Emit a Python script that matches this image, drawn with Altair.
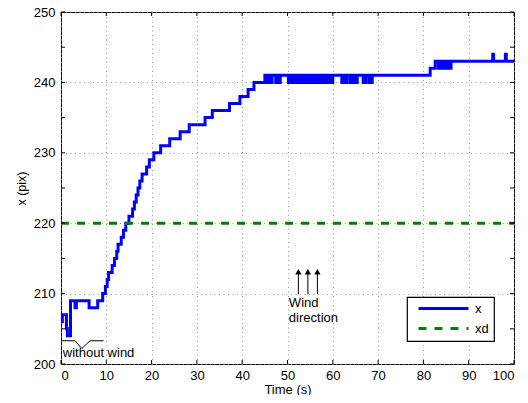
import altair as alt
import pandas as pd

# ---- data ----
t_x = [0.0, 0.3, 1.2, 1.4, 2.1, 3.1, 3.4, 6.2, 8.1, 9.2, 9.8, 10.2, 10.5, 11.3, 11.8,
       12.3, 12.6, 13.3, 13.8, 14.3, 15.0, 15.8, 16.2, 16.6, 17.0, 17.4, 17.9, 18.9,
       19.5, 20.5, 22.0, 24.0, 26.3, 28.3, 31.8, 33.4, 37.2, 39.5, 41.3, 42.6,
       45.0, 45.2, 45.4, 45.6, 45.8, 46.0, 46.2, 46.4, 46.6,
       47.4, 47.6, 48.2, 48.4,
       50.2, 50.4, 50.6, 50.8, 51.0, 51.2, 51.5, 51.7, 51.9, 52.1, 52.3, 52.5,
       52.8, 53.0, 53.2, 53.4, 53.7, 53.9, 54.1, 54.3, 54.6, 54.8, 55.0, 55.2,
       55.6, 55.8, 56.1, 56.4,
       56.8, 57.0, 57.3, 57.5, 57.8, 58.0, 58.2, 58.4,
       58.7, 58.9, 59.2, 59.4, 59.7, 60.0,
       62.0, 62.2, 62.5, 62.7, 62.9, 63.1,
       63.8, 64.0, 64.3, 64.5, 64.8, 65.0, 65.2, 65.4,
       66.7, 66.9, 67.2, 67.4,
       68.1, 68.3, 68.5, 68.7,
       81.5, 82.6, 83.3, 83.6, 84.0, 84.4, 84.8, 85.3, 85.6, 86.1,
       95.3, 95.5, 98.1, 98.3, 100.0]
v_x = [206, 207, 205, 204, 209, 208, 209, 208, 209, 210, 211, 212, 213, 214, 215,
       216, 217, 218, 219, 220, 221, 222, 223, 224, 225, 226, 227, 228,
       229, 230, 231, 232, 233, 234, 235, 236, 237, 238, 239, 240,
       241, 240, 241, 240, 241, 240, 241, 240, 241,
       240, 241, 240, 241,
       240, 241, 240, 241, 240, 241, 240, 241, 240, 241, 240, 241,
       240, 241, 240, 241, 240, 241, 240, 241, 240, 241, 240, 241,
       240, 241, 240, 241,
       240, 241, 240, 241, 240, 241, 240, 241,
       240, 241, 240, 241, 240, 241,
       240, 241, 240, 241, 240, 241,
       240, 241, 240, 241, 240, 241, 240, 241,
       240, 241, 240, 241,
       240, 241, 240, 241,
       242, 243, 242, 243, 242, 243, 242, 243, 242, 243,
       244, 243, 244, 243, 243]
t_xd = [0, 100]
v_xd = [220, 220]

series_names = ["x", "xd"]
series_colors = ["#0000ff", "#008000"]

x_ticks = list(range(0, 101, 10))
y_ticks = list(range(200, 251, 5))

# annotation data
bracket_t = [0.0, 3.1, 4.6, 6.4, 9.4]
bracket_v = [203.3, 203.3, 202.2, 203.3, 203.3]
arrow_t = [52.4, 54.5, 56.6]
arrow_v0 = [209.9, 209.9, 209.9]
arrow_v1 = [213.1, 213.1, 213.1]
notes = ["without wind", "Wind", "direction"]
notes_t = [0.4, 50.3, 50.3]
notes_v = [201.5, 208.7, 206.5]

FONT = "Liberation Sans"

df = pd.concat([
    pd.DataFrame({"t": t_x, "v": v_x, "s": "x"}),
    pd.DataFrame({"t": t_xd, "v": v_xd, "s": "xd"}),
])

xs = alt.Scale(domain=[0, 100], nice=False, zero=False)
ys = alt.Scale(domain=[200, 250], nice=False, zero=False)

xaxis = alt.Axis(values=x_ticks, title="Time (s)", grid=True, gridDash=[1, 3.5],
                 gridColor="#888", gridOpacity=0.9, tickSize=0, domain=False,
                 labelFontSize=13, titleFontSize=13, labelPadding=5, titlePadding=1,
                 labelFont=FONT, titleFont=FONT, titleFontWeight="normal",
                 labelColor="black", titleColor="black")
yaxis = alt.Axis(values=y_ticks, title="x (pix)", grid=True, gridDash=[1, 3.5],
                 gridColor="#888", gridOpacity=0.9, tickSize=0, domain=False,
                 labelFontSize=13, titleFontSize=12.5, labelPadding=6, titlePadding=5,
                 labelFont=FONT, titleFont=FONT, titleFontWeight="normal",
                 labelColor="black", titleColor="black")

lines = alt.Chart(df).mark_line(interpolate="step-after", strokeWidth=3).encode(
    x=alt.X("t:Q", scale=xs, axis=xaxis),
    y=alt.Y("v:Q", scale=ys, axis=yaxis),
    color=alt.Color("s:N", scale=alt.Scale(domain=series_names, range=series_colors),
                    legend=alt.Legend(title=None)),
    strokeDash=alt.StrokeDash("s:N", scale=alt.Scale(domain=series_names,
                                                     range=[[1, 0], [8, 8]]),
                              legend=alt.Legend(title=None)),
)

bracket = alt.Chart(pd.DataFrame({"t": bracket_t, "v": bracket_v})).mark_line(
    color="black", strokeWidth=1).encode(x=alt.X("t:Q", scale=xs), y=alt.Y("v:Q", scale=ys))

arrows_df = pd.DataFrame({"t": arrow_t, "v0": arrow_v0, "v1": arrow_v1})
shafts = alt.Chart(arrows_df).mark_rule(color="black", strokeWidth=1).encode(
    x=alt.X("t:Q", scale=xs), y=alt.Y("v0:Q", scale=ys), y2="v1:Q")
heads = alt.Chart(arrows_df).mark_point(shape="triangle-up", filled=True, color="black",
                                        size=40, opacity=1).encode(
    x=alt.X("t:Q", scale=xs), y=alt.Y("v1:Q", scale=ys))

texts = alt.Chart(pd.DataFrame({"txt": notes, "t": notes_t, "v": notes_v})).mark_text(
    align="left", baseline="middle", fontSize=13, font=FONT, color="black").encode(
    x=alt.X("t:Q", scale=xs), y=alt.Y("v:Q", scale=ys), text="txt:N")

# inward tick marks on the box
tick_y = pd.DataFrame({"v": y_ticks})
ytl = alt.Chart(tick_y).mark_rule(color="black").encode(
    x=alt.value(0), x2=alt.value(4), y=alt.Y("v:Q", scale=ys))
ytr = alt.Chart(tick_y).mark_rule(color="black").encode(
    x=alt.value(449), x2=alt.value(453), y=alt.Y("v:Q", scale=ys))
tick_x = pd.DataFrame({"t": x_ticks})
xtb = alt.Chart(tick_x).mark_rule(color="black").encode(
    x=alt.X("t:Q", scale=xs), y=alt.value(352), y2=alt.value(348))
xtt = alt.Chart(tick_x).mark_rule(color="black").encode(
    x=alt.X("t:Q", scale=xs), y=alt.value(0), y2=alt.value(4))

chart = alt.layer(lines, bracket, shafts, heads, texts, ytl, ytr, xtb, xtt).properties(
    width=453, height=352,
    autosize=alt.AutoSizeParams(type="none"),
    padding={"left": 53, "top": 4, "right": 6, "bottom": 31},
).configure_view(stroke="black", strokeWidth=1).configure_legend(
    orient="none", legendX=346, legendY=285, strokeColor="black", fillColor="white",
    padding=5, symbolType="M0,0H10", symbolSize=100, symbolStrokeWidth=3,
    labelFontSize=13, labelFont=FONT, labelColor="black", labelOffset=50,
    rowPadding=6, symbolLimit=0, cornerRadius=0, strokeWidth=1.2,
)

chart.save("out.html", embed_options={"renderer": "svg", "actions": False})
